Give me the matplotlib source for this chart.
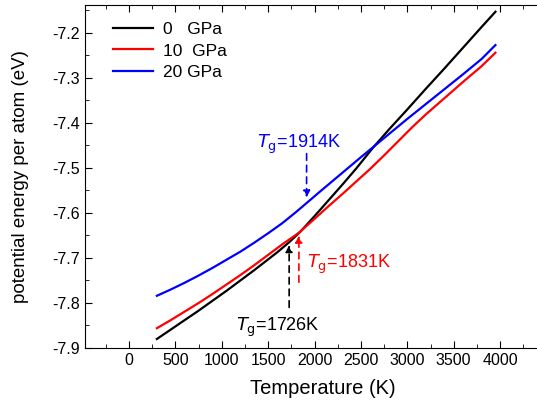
import matplotlib.pyplot as plt
from matplotlib.ticker import MultipleLocator

plt.rcParams['font.family'] = ['Liberation Sans', 'DejaVu Sans']
plt.rcParams['axes.unicode_minus'] = False

# temperature (K) and potential energy per atom (eV)
t_0 = [300, 450, 600, 750, 900, 1050, 1200, 1350, 1500, 1600, 1726, 1850,
       2000, 2150, 2300, 2450, 2630, 2800, 3000, 3200, 3400, 3600, 3800, 3950]
e_0 = [-7.880, -7.859, -7.838, -7.817, -7.795, -7.773, -7.750, -7.727,
       -7.703, -7.687, -7.665, -7.641, -7.607, -7.572, -7.537, -7.501,
       -7.455, -7.415, -7.370, -7.324, -7.279, -7.233, -7.187, -7.153]

t_10 = [300, 450, 600, 750, 900, 1050, 1200, 1350, 1500, 1650, 1831, 2000,
        2150, 2300, 2450, 2600, 2750, 2900, 3050, 3200, 3400, 3600, 3800, 3950]
e_10 = [-7.856, -7.838, -7.819, -7.800, -7.780, -7.759, -7.738, -7.716,
        -7.693, -7.670, -7.644, -7.613, -7.585, -7.558, -7.530, -7.502,
        -7.472, -7.441, -7.410, -7.381, -7.345, -7.309, -7.274, -7.244]

t_20 = [300, 450, 600, 750, 900, 1050, 1200, 1350, 1500, 1650, 1800, 1914,
        2050, 2200, 2350, 2500, 2630, 2800, 3000, 3200, 3400, 3600, 3800, 3950]
e_20 = [-7.784, -7.770, -7.755, -7.739, -7.722, -7.704, -7.686, -7.666,
        -7.645, -7.623, -7.598, -7.578, -7.554, -7.528, -7.502, -7.476,
        -7.454, -7.425, -7.391, -7.358, -7.325, -7.292, -7.258, -7.227]

labels = ["0   GPa", "10  GPa", "20 GPa"]
colors = ["black", "red", "blue"]

# glass transition temperatures, arrow tips and arrow tails
tg = [1726, 1831, 1914]
tg_e = [-7.665, -7.644, -7.572]
tail_e = [-7.816, -7.76, -7.462]

fig = plt.figure(figsize=(5.37, 4.07), dpi=100)
ax = fig.add_axes([85 / 537, 59 / 407, 475 / 537, 343 / 407])

for t, e, lab, c in zip([t_0, t_10, t_20], [e_0, e_10, e_20], labels, colors):
    ax.plot(t, e, color=c, lw=1.6, label=lab)

ax.set_xlim(-475, 4646)
ax.set_ylim(-7.9, -7.138)
ax.set_xticks([0, 500, 1000, 1500, 2000, 2500, 3000, 3500, 4000])
ax.set_yticks([-7.9, -7.8, -7.7, -7.6, -7.5, -7.4, -7.3, -7.2])
ax.xaxis.set_minor_locator(MultipleLocator(250))
ax.yaxis.set_minor_locator(MultipleLocator(0.05))
ax.spines['right'].set_visible(False)
ax.tick_params(which='both', direction='in', top=True, right=False,
               labelsize=11.5)
ax.tick_params(which='major', length=5)
ax.tick_params(which='minor', length=3)
ax.set_xlabel("Temperature (K)", fontsize=14.5, labelpad=8)
ax.set_ylabel("potential energy per atom (eV)", fontsize=13.5, labelpad=17)

# dashed arrows marking Tg
for x, y0, y1, c in zip(tg, tail_e, tg_e, colors):
    ax.annotate("", xy=(x, y1), xytext=(x, y0),
                arrowprops=dict(arrowstyle='-|>', color=c, lw=1.2,
                                linestyle=(0, (4, 3)), mutation_scale=10))

ax.text(1150, -7.855, r"$T_{\rm g}$=1726K", fontsize=13, color="black",
        va="center", math_fontfamily='dejavusans')
ax.text(1920, -7.714, r"$T_{\rm g}$=1831K", fontsize=13, color="red",
        va="center", math_fontfamily='dejavusans')
ax.text(1380, -7.447, r"$T_{\rm g}$=1914K", fontsize=13, color="blue",
        va="center", math_fontfamily='dejavusans')

ax.legend(loc='upper left', frameon=False, fontsize=12.5,
          handlelength=2.3, handletextpad=0.57, labelspacing=0.36,
          borderaxespad=0, bbox_to_anchor=(106 / 537, 1 - 15 / 407),
          bbox_transform=fig.transFigure)

fig.savefig("out.png", dpi=100)
